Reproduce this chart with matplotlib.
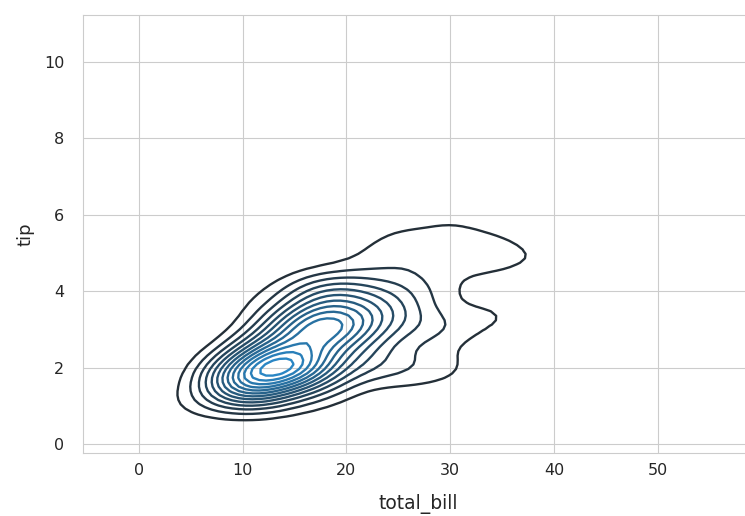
import numpy as np
import matplotlib
matplotlib.use("Agg")
import matplotlib.pyplot as plt
import seaborn as sns

# tips dataset: total_bill and tip columns
total_bill = [
    16.99, 10.34, 21.01, 23.68, 24.59, 25.29, 8.77, 26.88, 15.04, 14.78, 10.27, 35.26,
    15.42, 18.43, 14.83, 21.58, 10.33, 16.29, 16.97, 20.65, 17.92, 20.29, 15.77, 39.42,
    19.82, 17.81, 13.37, 12.69, 21.7, 19.65, 9.55, 18.35, 15.06, 20.69, 17.78, 24.06,
    16.31, 16.93, 18.69, 31.27, 16.04, 17.46, 13.94, 9.68, 30.4, 18.29, 22.23, 32.4,
    28.55, 18.04, 12.54, 10.29, 34.81, 9.94, 25.56, 19.49, 38.01, 26.41, 11.24, 48.27,
    20.29, 13.81, 11.02, 18.29, 17.59, 20.08, 16.45, 3.07, 20.23, 15.01, 12.02, 17.07,
    26.86, 25.28, 14.73, 10.51, 17.92, 27.2, 22.76, 17.29, 19.44, 16.66, 10.07, 32.68,
    15.98, 34.83, 13.03, 18.28, 24.71, 21.16, 28.97, 22.49, 5.75, 16.32, 22.75, 40.17,
    27.28, 12.03, 21.01, 12.46, 11.35, 15.38, 44.3, 22.42, 20.92, 15.36, 20.49, 25.21,
    18.24, 14.31, 14.0, 7.25, 38.07, 23.95, 25.71, 17.31, 29.93, 10.65, 12.43, 24.08,
    11.69, 13.42, 14.26, 15.95, 12.48, 29.8, 8.52, 14.52, 11.38, 22.82, 19.08, 20.27,
    11.17, 12.26, 18.26, 8.51, 10.33, 14.15, 16.0, 13.16, 17.47, 34.3, 41.19, 27.05,
    16.43, 8.35, 18.64, 11.87, 9.78, 7.51, 14.07, 13.13, 17.26, 24.55, 19.77, 29.85,
    48.17, 25.0, 13.39, 16.49, 21.5, 12.66, 16.21, 13.81, 17.51, 24.52, 20.76, 31.71,
    10.59, 10.63, 50.81, 15.81, 7.25, 31.85, 16.82, 32.9, 17.89, 14.48, 9.6, 34.63,
    34.65, 23.33, 45.35, 23.17, 40.55, 20.69, 20.9, 30.46, 18.15, 23.1, 15.69, 19.81,
    28.44, 15.48, 16.58, 7.56, 10.34, 43.11, 13.0, 13.51, 18.71, 12.74, 13.0, 16.4,
    20.53, 16.47, 26.59, 38.73, 24.27, 12.76, 30.06, 25.89, 48.33, 13.27, 28.17, 12.9,
    28.15, 11.59, 7.74, 30.14, 12.16, 13.42, 8.58, 15.98, 13.42, 16.27, 10.09, 20.45,
    13.28, 22.12, 24.01, 15.69, 11.61, 10.77, 15.53, 10.07, 12.6, 32.83, 35.83, 29.03,
    27.18, 22.67, 17.82, 18.78,
]
tip = [
    1.01, 1.66, 3.5, 3.31, 3.61, 4.71, 2.0, 3.12, 1.96, 3.23, 1.71, 5.0,
    1.57, 3.0, 3.02, 3.92, 1.67, 3.71, 3.5, 3.35, 4.08, 2.75, 2.23, 7.58,
    3.18, 2.34, 2.0, 2.0, 4.3, 3.0, 1.45, 2.5, 3.0, 2.45, 3.27, 3.6,
    2.0, 3.07, 2.31, 5.0, 2.24, 2.54, 3.06, 1.32, 5.6, 3.0, 5.0, 6.0,
    2.05, 3.0, 2.5, 2.6, 5.2, 1.56, 4.34, 3.51, 3.0, 1.5, 1.76, 6.73,
    3.21, 2.0, 1.98, 3.76, 2.64, 3.15, 2.47, 1.0, 2.01, 2.09, 1.97, 3.0,
    3.14, 5.0, 2.2, 1.25, 3.08, 4.0, 3.0, 2.71, 3.0, 3.4, 1.83, 5.0,
    2.03, 5.17, 2.0, 4.0, 5.85, 3.0, 3.0, 3.5, 1.0, 4.3, 3.25, 4.73,
    4.0, 1.5, 3.0, 1.5, 2.5, 3.0, 2.5, 3.48, 4.08, 1.64, 4.06, 4.29,
    3.76, 4.0, 3.0, 1.0, 4.0, 2.55, 4.0, 3.5, 5.07, 1.5, 1.8, 2.92,
    2.31, 1.68, 2.5, 2.0, 2.52, 4.2, 1.48, 2.0, 2.0, 2.18, 1.5, 2.83,
    1.5, 2.0, 3.25, 1.25, 2.0, 2.0, 2.0, 2.75, 3.5, 6.7, 5.0, 5.0,
    2.3, 1.5, 1.36, 1.63, 1.73, 2.0, 2.5, 2.0, 2.74, 2.0, 2.0, 5.14,
    5.0, 3.75, 2.61, 2.0, 3.5, 2.5, 2.0, 2.0, 3.0, 3.48, 2.24, 4.5,
    1.61, 2.0, 10.0, 3.16, 5.15, 3.18, 4.0, 3.11, 2.0, 2.0, 4.0, 3.55,
    3.68, 5.65, 3.5, 6.5, 3.0, 5.0, 3.5, 2.0, 3.5, 4.0, 1.5, 4.19,
    2.56, 2.02, 4.0, 1.44, 2.0, 5.0, 2.0, 2.0, 4.0, 2.01, 2.0, 2.5,
    4.0, 3.23, 3.41, 3.0, 2.03, 2.23, 2.0, 5.16, 9.0, 2.5, 6.5, 1.1,
    3.0, 1.5, 1.44, 3.09, 2.2, 3.48, 1.92, 3.0, 1.58, 2.5, 2.0, 3.0,
    2.72, 2.88, 2.0, 3.0, 3.39, 1.47, 3.0, 1.25, 1.0, 1.17, 4.67, 5.92,
    2.0, 2.0, 1.75, 3.0,
]

# density values of the drawn contours
levels = [0.0024, 0.0043, 0.0062, 0.0081, 0.0100, 0.0119, 0.0138,
          0.0157, 0.0176, 0.0195, 0.0214, 0.0233, 0.0252]


def bw_scott(a):
    # statsmodels-style scott rule: 1.059 * min(std, IQR/1.349) * n^-0.2
    a = np.asarray(a)
    iqr = np.subtract(*np.percentile(a, [75, 25]))
    sigma = min(a.std(ddof=1), iqr / 1.349)
    return 1.059 * sigma * len(a) ** (-0.2)


def kde_support(a, bw, gridsize=100, cut=3):
    a = np.asarray(a)
    return np.linspace(a.min() - bw * cut, a.max() + bw * cut, gridsize)


x = np.asarray(total_bill)
y = np.asarray(tip)
bw_x = bw_scott(x)
bw_y = bw_scott(y)

xx, yy = np.meshgrid(kde_support(x, bw_x), kde_support(y, bw_y))

# product gaussian kernel density
z = np.zeros_like(xx)
for xi, yi in zip(x, y):
    z += np.exp(-0.5 * (((xx - xi) / bw_x) ** 2 + ((yy - yi) / bw_y) ** 2))
z /= len(x) * 2 * np.pi * bw_x * bw_y

sns.set_style("whitegrid")
plt.rcParams['font.family'] = ['DejaVu Sans']

fig = plt.figure(figsize=(7.45, 5.16), dpi=100)
ax = fig.add_axes([0.1114, 0.1221, 0.9007, 0.849])

cmap = sns.dark_palette("#2a86c4", as_cmap=True)
ax.contour(xx, yy, z, levels, cmap=cmap, vmin=0, vmax=levels[-1], linewidths=1.7)

ax.set_xticks([0, 10, 20, 30, 40, 50])
ax.set_yticks([0, 2, 4, 6, 8, 10])
ax.tick_params(labelsize=11.5, colors='.15')
ax.tick_params(axis='y', pad=10)
ax.set_xlabel('total_bill', fontsize=13.5, color='.15', labelpad=12)
ax.set_ylabel('tip', fontsize=13, color='.15', labelpad=7)

fig.savefig('out.png', dpi=100)
